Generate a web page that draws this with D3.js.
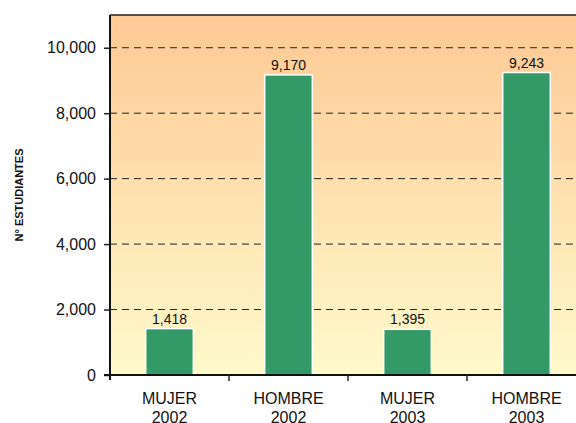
<!DOCTYPE html>
<html>
<head>
<meta charset="utf-8">
<script src="https://cdn.jsdelivr.net/npm/d3@7"></script>
<style>
  body { margin: 0; background: #fff; }
  svg { display: block; font-family: "Liberation Sans", Arial, sans-serif; }
</style>
</head>
<body>
<svg></svg>
<script>
// data
const sexo = ["MUJER", "HOMBRE", "MUJER", "HOMBRE"]
const anio = ["2002", "2002", "2003", "2003"]
const estudiantes = [1418, 9170, 1395, 9243]
const yTicks = [0, 2000, 4000, 6000, 8000, 10000]

const barColor = "#339966"

const W = 576, H = 423
const plot = { left: 110, top: 15, right: 586, bottom: 375 }

const svg = d3.select("svg").attr("width", W).attr("height", H)

const keys = sexo.map((s, i) => `${s} ${anio[i]}`)

const x = d3.scaleBand()
  .domain(keys)
  .range([plot.left, plot.right])
  .padding(0)

const xBar = d3.scaleBand()
  .domain(keys)
  .range([plot.left, plot.right])
  .paddingInner(0.6)
  .paddingOuter(0.3)

const y = d3.scaleLinear()
  .domain([0, 11000])
  .range([plot.bottom, plot.top])

// background gradient
const defs = svg.append("defs")
const grad = defs.append("linearGradient")
  .attr("id", "bg")
  .attr("x1", 0).attr("y1", 0).attr("x2", 0).attr("y2", 1)
grad.append("stop").attr("offset", "0%").attr("stop-color", "#fec994")
grad.append("stop").attr("offset", "100%").attr("stop-color", "#fffacb")

svg.append("rect")
  .attr("x", plot.left)
  .attr("y", plot.top)
  .attr("width", plot.right - plot.left)
  .attr("height", plot.bottom - plot.top)
  .attr("fill", "url(#bg)")

// gridlines
svg.append("g")
  .selectAll("line")
  .data(yTicks.filter(d => d > 0))
  .join("line")
  .attr("x1", plot.left)
  .attr("x2", plot.right)
  .attr("y1", d => y(d))
  .attr("y2", d => y(d))
  .attr("stroke", "#222")
  .attr("stroke-width", 1)
  .attr("stroke-dasharray", "7,5")

// top border
svg.append("line")
  .attr("x1", plot.left).attr("x2", plot.right)
  .attr("y1", plot.top).attr("y2", plot.top)
  .attr("stroke", "#222")
  .attr("stroke-width", 1.5)

// bars
svg.append("g")
  .selectAll("rect")
  .data(estudiantes)
  .join("rect")
  .attr("x", (d, i) => xBar(keys[i]))
  .attr("y", d => y(d))
  .attr("width", xBar.bandwidth())
  .attr("height", d => y(0) - y(d))
  .attr("fill", barColor)
  .attr("stroke", "#fff")
  .attr("stroke-width", 1.5)

// value labels
svg.append("g")
  .selectAll("text")
  .data(estudiantes)
  .join("text")
  .attr("x", (d, i) => xBar(keys[i]) + xBar.bandwidth() / 2)
  .attr("y", d => y(d) - 5)
  .attr("text-anchor", "middle")
  .attr("font-size", "14px")
  .attr("fill", "#111")
  .text(d => d3.format(",")(d))

// y axis
const yAxis = svg.append("g")
  .attr("transform", `translate(${plot.left},0)`)
  .call(d3.axisLeft(y).tickValues(yTicks).tickSize(6).tickPadding(8).tickFormat(d3.format(",")))
yAxis.select(".domain").remove()
yAxis.selectAll(".tick line").attr("stroke", "#222").attr("stroke-width", 1.5)
yAxis.selectAll(".tick text")
  .attr("font-size", "16px")
  .attr("font-family", "Liberation Sans, Arial, sans-serif")
  .attr("fill", "#111")

svg.append("line")
  .attr("x1", plot.left).attr("x2", plot.left)
  .attr("y1", plot.top).attr("y2", plot.bottom + 5)
  .attr("stroke", "#111")
  .attr("stroke-width", 2)

// x axis
const xAxis = svg.append("g")
  .attr("transform", `translate(0,${plot.bottom})`)
xAxis.append("line")
  .attr("x1", plot.left - 6).attr("x2", plot.right)
  .attr("y1", 0).attr("y2", 0)
  .attr("stroke", "#111")
  .attr("stroke-width", 2)
xAxis.selectAll(".sep")
  .data(keys.slice(1))
  .join("line")
  .attr("class", "sep")
  .attr("x1", d => x(d)).attr("x2", d => x(d))
  .attr("y1", 0).attr("y2", 6)
  .attr("stroke", "#222")
  .attr("stroke-width", 1.5)

const labels = xAxis.selectAll(".lbl")
  .data(keys)
  .join("text")
  .attr("class", "lbl")
  .attr("text-anchor", "middle")
  .attr("font-size", "16px")
  .attr("fill", "#111")
labels.append("tspan")
  .attr("x", d => x(d) + x.bandwidth() / 2)
  .attr("y", 29)
  .text((d, i) => sexo[i])
labels.append("tspan")
  .attr("x", d => x(d) + x.bandwidth() / 2)
  .attr("y", 48)
  .text((d, i) => anio[i])

// y axis title
svg.append("text")
  .attr("transform", `translate(23,${(plot.top + plot.bottom) / 2}) rotate(-90)`)
  .attr("text-anchor", "middle")
  .attr("font-size", "11px")
  .attr("font-weight", "bold")
  .attr("fill", "#111")
  .text("N° ESTUDIANTES")
</script>
</body>
</html>
